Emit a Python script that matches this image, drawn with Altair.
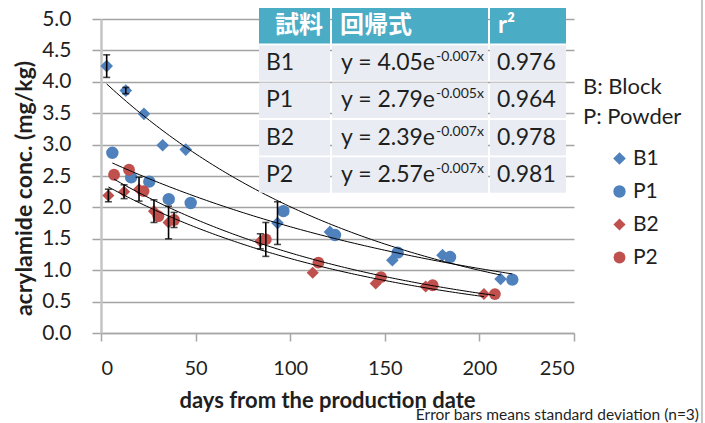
import altair as alt
import numpy as np
import pandas as pd

# ---- measured data -------------------------------------------------------
series = ["B1", "P1", "B2", "P2"]
series_colors = ["#4F81BD", "#4F81BD", "#C0504D", "#C0504D"]
series_shapes = ["diamond", "circle", "diamond", "circle"]

b1_day = [3.0, 13.1, 22.7, 32.6, 44.8, 93.3, 121.0, 154.0, 180.5, 211.2]
b1_conc = [4.25, 3.86, 3.49, 2.99, 2.92, 1.75, 1.61, 1.16, 1.24, 0.86]
b1_sd = [0.18, 0.05, 0, 0, 0, 0.34, 0, 0, 0, 0]

p1_day = [6.0, 15.9, 25.5, 35.8, 47.4, 96.4, 123.7, 156.8, 184.5, 217.4]
p1_conc = [2.87, 2.48, 2.41, 2.13, 2.07, 1.94, 1.56, 1.28, 1.21, 0.85]
p1_sd = [0, 0, 0, 0, 0, 0, 0, 0, 0, 0]

b2_day = [3.9, 12.2, 20.1, 28.0, 35.7, 84.2, 111.9, 145.2, 171.6, 202.4]
b2_conc = [2.19, 2.25, 2.29, 1.94, 1.76, 1.46, 0.96, 0.79, 0.74, 0.62]
b2_sd = [0.10, 0.11, 0.19, 0.18, 0.26, 0.12, 0, 0, 0, 0]

p2_day = [6.9, 14.8, 22.5, 30.3, 38.6, 87.1, 114.9, 148.0, 175.3, 208.2]
p2_conc = [2.52, 2.60, 2.26, 1.86, 1.80, 1.49, 1.12, 0.89, 0.76, 0.62]
p2_sd = [0, 0, 0, 0, 0.12, 0.27, 0, 0, 0, 0]

# exponential fits  y = a * exp(-k * x)
coef_a = [4.05, 2.79, 2.39, 2.57]
coef_k = [0.007, 0.005, 0.007, 0.007]
r_squared = [0.976, 0.964, 0.978, 0.981]

x_ticks = [0, 50, 100, 150, 200, 250]
y_ticks = [0.0, 0.5, 1.0, 1.5, 2.0, 2.5, 3.0, 3.5, 4.0, 4.5, 5.0]

# ---- tables for the library ---------------------------------------------
days = dict(zip(series, [b1_day, p1_day, b2_day, p2_day]))
concs = dict(zip(series, [b1_conc, p1_conc, b2_conc, p2_conc]))
sds = dict(zip(series, [b1_sd, p1_sd, b2_sd, p2_sd]))

rows = []
for s in series:
    for d, c, e in zip(days[s], concs[s], sds[s]):
        rows.append({"series": s, "day": d, "conc": c, "sd": e,
                     "lo": c - e, "hi": c + e})
points_df = pd.DataFrame(rows)
bars_df = points_df[points_df["sd"] > 0].reset_index(drop=True)

trend_rows = []
for s, a, k in zip(series, coef_a, coef_k):
    for x in np.linspace(min(days[s]), max(days[s]), 120):
        trend_rows.append({"series": s, "day": float(x),
                           "conc": float(a * np.exp(-k * x))})
trend_df = pd.DataFrame(trend_rows)

FONT = "Lato, 'Noto Sans CJK JP', sans-serif"
INK = "#1f1f1f"

x_scale = alt.Scale(domain=[0, 250], nice=False, zero=True)
y_scale = alt.Scale(domain=[0, 5], nice=False, zero=True)

x_axis = alt.Axis(values=x_ticks, grid=False, domainColor="#a6a6a6", domainWidth=1.5,
                  tickColor="#a6a6a6", tickSize=8, tickWidth=1.5, labelOverlap=False,
                  labelFont=FONT, labelFontSize=20, labelColor=INK, labelPadding=17,
                  title="days from the production date", titleFont=FONT,
                  titleFontSize=22, titleFontWeight="bold", titleColor=INK,
                  titleX=226, titleY=67, titleBaseline="middle")
y_axis = alt.Axis(values=y_ticks, tickCount=11, format=".1f", grid=True,
                  gridColor="#a3a3a3", gridWidth=1.5, domainColor="#c4c4c4",
                  domainWidth=2.5, tickColor="#a3a3a3", tickSize=9, tickWidth=1.5,
                  labelOverlap=False, labelFont=FONT, labelFontSize=21, labelColor=INK,
                  labelPadding=21, title="acrylamide conc. (mg/kg)", titleFont=FONT,
                  titleFontSize=23, titleFontWeight="bold", titleColor=INK,
                  titleAngle=270, titleX=-65, titleY=169, titleBaseline="bottom",
                  titleAlign="center")

legend = alt.Legend(title=None, orient="none", legendX=508, legendY=129, padding=0,
                    labelFont=FONT, labelFontSize=21, labelColor=INK, labelOffset=3,
                    symbolSize=75, symbolStrokeWidth=0, rowPadding=11)

points = alt.Chart(points_df).mark_point(filled=True, opacity=1, strokeWidth=0).encode(
    x=alt.X("day:Q", scale=x_scale, axis=x_axis),
    y=alt.Y("conc:Q", scale=y_scale, axis=y_axis),
    color=alt.Color("series:N", scale=alt.Scale(domain=series, range=series_colors),
                    legend=legend),
    shape=alt.Shape("series:N", scale=alt.Scale(domain=series, range=series_shapes),
                    legend=legend),
    size=alt.Size("series:N", scale=alt.Scale(domain=series, range=[160, 140, 160, 140]),
                  legend=None),
)

err_rules = alt.Chart(bars_df).mark_rule(color="black", strokeWidth=1.6).encode(
    x="day:Q", y="lo:Q", y2="hi:Q")
err_caps = alt.Chart(bars_df).transform_fold(["lo", "hi"], as_=["end", "yv"]).mark_tick(
    orient="horizontal", color="black", size=7, thickness=1.6).encode(
    x="day:Q", y="yv:Q")

trend = alt.Chart(trend_df).mark_line(color="black", strokeWidth=1).encode(
    x="day:Q", y="conc:Q", detail="series:N")

# ---- regression table (pixel layout relative to the plot area) ----------
col_edges = [157, 230, 388, 466]
row_top0, row_pitch, row_h, gap = -11.0, 37.3, 35.5, 1.0

cells = []
for r in range(5):
    top = row_top0 + r * row_pitch
    for c in range(3):
        cells.append({"x0": col_edges[c] + gap, "x1": col_edges[c + 1] - gap,
                      "y0": top, "y1": top + row_h,
                      "fill": "#4BACC6" if r == 0 else "#E9EDF3"})
cells_df = pd.DataFrame(cells)

table_rects = alt.Chart(cells_df).mark_rect().encode(
    x=alt.X("x0:Q", scale=None), x2="x1:Q",
    y=alt.Y("y0:Q", scale=None), y2="y1:Q",
    color=alt.Color("fill:N", scale=None))

def row_mid(r):
    return row_top0 + r * row_pitch + row_h / 2

header_df = pd.DataFrame({"tx": [174, 239, 397],
                          "ty": [row_mid(0)] * 3,
                          "label": ["試料", "回帰式", "r²"]})
header_text = alt.Chart(header_df).mark_text(
    align="left", baseline="middle", font=FONT, fontSize=24, fontWeight="bold",
    color="white").encode(x=alt.X("tx:Q", scale=None), y=alt.Y("ty:Q", scale=None),
                          text="label:N")

body_df = pd.DataFrame({
    "ty": [row_mid(i + 1) for i in range(4)],
    "name": series,
    "base": [f"y = {a:.2f}e" for a in coef_a],
    "sup": [f"-{k:.3f}x" for k in coef_k],
    "r2": [f"{r:.3f}" for r in r_squared],
})
body_base = alt.Chart(body_df)
name_text = body_base.mark_text(align="left", baseline="middle", font=FONT,
                                fontSize=23, color=INK).encode(
    x=alt.value(165), y=alt.Y("ty:Q", scale=None), text="name:N")
formula_text = body_base.mark_text(align="right", baseline="middle", font=FONT,
                                   fontSize=23, color=INK).encode(
    x=alt.value(334), y=alt.Y("ty:Q", scale=None), text="base:N")
sup_text = body_base.mark_text(align="left", baseline="middle", font=FONT,
                               fontSize=14, color=INK, dy=-6).encode(
    x=alt.value(335), y=alt.Y("ty:Q", scale=None), text="sup:N")
r2_text = body_base.mark_text(align="left", baseline="middle", font=FONT,
                              fontSize=23, color=INK).encode(
    x=alt.value(396), y=alt.Y("ty:Q", scale=None), text="r2:N")

# ---- side notes -------------------------------------------------------------
key_df = pd.DataFrame({"ty": [68, 98], "label": ["B: Block", "P: Powder"]})
key_text = alt.Chart(key_df).mark_text(align="left", baseline="middle", font=FONT,
                                       fontSize=22, color=INK).encode(
    x=alt.value(482), y=alt.Y("ty:Q", scale=None), text="label:N")

note_text = alt.Chart(pd.DataFrame({"label": ["Error bars means standard deviation (n=3)"]})
                      ).mark_text(align="right", baseline="middle", font=FONT,
                                  fontSize=15.5, color=INK).encode(
    x=alt.value(598), y=alt.value(396), text="label:N")

frame_edge = alt.Chart(pd.DataFrame({"k": [0]})).mark_rule(
    color="#8c8c8c", strokeWidth=1).encode(
    x=alt.value(601), y=alt.value(-19), y2=alt.value(404))

chart = alt.layer(
    points, err_rules, err_caps, trend,
    table_rects, header_text, name_text, formula_text, sup_text, r2_text,
    key_text, note_text, frame_edge,
).properties(
    width=473, height=314,
    autosize=alt.AutoSizeParams(type="none"),
    padding={"left": 101, "top": 19, "right": 131, "bottom": 90},
    background="white",
).configure_view(stroke=None)

chart.save("out.html", embed_options={"renderer": "svg", "actions": False})
